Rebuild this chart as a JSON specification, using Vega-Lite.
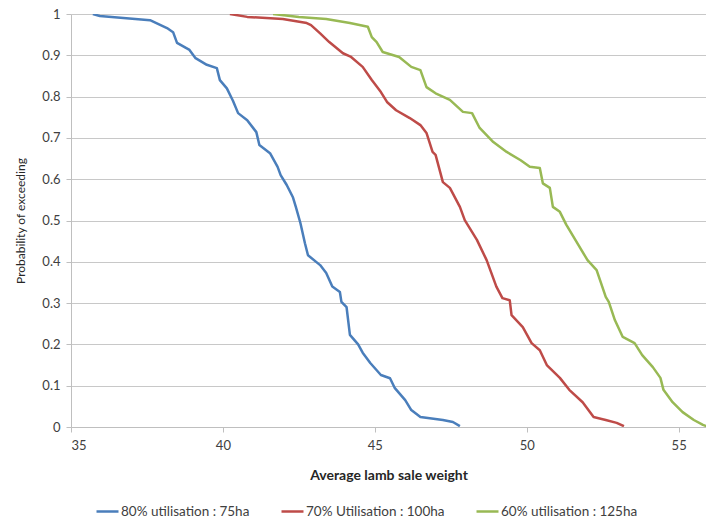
{
  "$schema": "https://vega.github.io/schema/vega-lite/v6.json",
  "width": 635,
  "height": 413,
  "autosize": {"type": "none"},
  "padding": {"left": 71, "top": 14, "right": 0, "bottom": 91},
  "background": "white",
  "config": {
    "font": "Lato",
    "view": {"stroke": null},
    "axis": {"labelColor": "#404040", "titleColor": "#262626", "domainColor": "#bfbfbf", "tickColor": "#bfbfbf", "gridColor": "#c8c8c8"}
  },
  "data": {
    "values": [
      {"s": "80% utilisation : 75ha", "o": 1, "w": 35.72, "p": 1.0},
      {"s": "80% utilisation : 75ha", "o": 2, "w": 35.95, "p": 0.995},
      {"s": "80% utilisation : 75ha", "o": 3, "w": 37.6, "p": 0.985},
      {"s": "80% utilisation : 75ha", "o": 4, "w": 38.16, "p": 0.966},
      {"s": "80% utilisation : 75ha", "o": 5, "w": 38.36, "p": 0.956},
      {"s": "80% utilisation : 75ha", "o": 6, "w": 38.49, "p": 0.93},
      {"s": "80% utilisation : 75ha", "o": 7, "w": 38.9, "p": 0.913},
      {"s": "80% utilisation : 75ha", "o": 8, "w": 39.1, "p": 0.893},
      {"s": "80% utilisation : 75ha", "o": 9, "w": 39.47, "p": 0.877},
      {"s": "80% utilisation : 75ha", "o": 10, "w": 39.8, "p": 0.869},
      {"s": "80% utilisation : 75ha", "o": 11, "w": 39.9, "p": 0.84},
      {"s": "80% utilisation : 75ha", "o": 12, "w": 40.13, "p": 0.82},
      {"s": "80% utilisation : 75ha", "o": 13, "w": 40.33, "p": 0.79},
      {"s": "80% utilisation : 75ha", "o": 14, "w": 40.5, "p": 0.76},
      {"s": "80% utilisation : 75ha", "o": 15, "w": 40.8, "p": 0.743},
      {"s": "80% utilisation : 75ha", "o": 16, "w": 41.1, "p": 0.714},
      {"s": "80% utilisation : 75ha", "o": 17, "w": 41.2, "p": 0.683},
      {"s": "80% utilisation : 75ha", "o": 18, "w": 41.55, "p": 0.663},
      {"s": "80% utilisation : 75ha", "o": 19, "w": 41.8, "p": 0.63},
      {"s": "80% utilisation : 75ha", "o": 20, "w": 41.9, "p": 0.61},
      {"s": "80% utilisation : 75ha", "o": 21, "w": 42.1, "p": 0.586},
      {"s": "80% utilisation : 75ha", "o": 22, "w": 42.3, "p": 0.557},
      {"s": "80% utilisation : 75ha", "o": 23, "w": 42.4, "p": 0.533},
      {"s": "80% utilisation : 75ha", "o": 24, "w": 42.55, "p": 0.494},
      {"s": "80% utilisation : 75ha", "o": 25, "w": 42.7, "p": 0.445},
      {"s": "80% utilisation : 75ha", "o": 26, "w": 42.8, "p": 0.416},
      {"s": "80% utilisation : 75ha", "o": 27, "w": 43.2, "p": 0.392},
      {"s": "80% utilisation : 75ha", "o": 28, "w": 43.4, "p": 0.373},
      {"s": "80% utilisation : 75ha", "o": 29, "w": 43.6, "p": 0.34},
      {"s": "80% utilisation : 75ha", "o": 30, "w": 43.85, "p": 0.327},
      {"s": "80% utilisation : 75ha", "o": 31, "w": 43.9, "p": 0.303},
      {"s": "80% utilisation : 75ha", "o": 32, "w": 44.07, "p": 0.29},
      {"s": "80% utilisation : 75ha", "o": 33, "w": 44.18, "p": 0.223},
      {"s": "80% utilisation : 75ha", "o": 34, "w": 44.45, "p": 0.2},
      {"s": "80% utilisation : 75ha", "o": 35, "w": 44.6, "p": 0.18},
      {"s": "80% utilisation : 75ha", "o": 36, "w": 44.85, "p": 0.155},
      {"s": "80% utilisation : 75ha", "o": 37, "w": 45.2, "p": 0.126},
      {"s": "80% utilisation : 75ha", "o": 38, "w": 45.5, "p": 0.118},
      {"s": "80% utilisation : 75ha", "o": 39, "w": 45.66, "p": 0.094},
      {"s": "80% utilisation : 75ha", "o": 40, "w": 46.0, "p": 0.065},
      {"s": "80% utilisation : 75ha", "o": 41, "w": 46.2, "p": 0.041},
      {"s": "80% utilisation : 75ha", "o": 42, "w": 46.5, "p": 0.024},
      {"s": "80% utilisation : 75ha", "o": 43, "w": 47.24, "p": 0.017},
      {"s": "80% utilisation : 75ha", "o": 44, "w": 47.57, "p": 0.012},
      {"s": "80% utilisation : 75ha", "o": 45, "w": 47.8, "p": 0.002},

      {"s": "70% Utilisation : 100ha", "o": 1, "w": 40.23, "p": 1.0},
      {"s": "70% Utilisation : 100ha", "o": 2, "w": 40.8, "p": 0.993},
      {"s": "70% Utilisation : 100ha", "o": 3, "w": 41.97, "p": 0.988},
      {"s": "70% Utilisation : 100ha", "o": 4, "w": 42.76, "p": 0.978},
      {"s": "70% Utilisation : 100ha", "o": 5, "w": 42.9, "p": 0.973},
      {"s": "70% Utilisation : 100ha", "o": 6, "w": 43.2, "p": 0.953},
      {"s": "70% Utilisation : 100ha", "o": 7, "w": 43.5, "p": 0.932},
      {"s": "70% Utilisation : 100ha", "o": 8, "w": 43.95, "p": 0.905},
      {"s": "70% Utilisation : 100ha", "o": 9, "w": 44.2, "p": 0.897},
      {"s": "70% Utilisation : 100ha", "o": 10, "w": 44.6, "p": 0.872},
      {"s": "70% Utilisation : 100ha", "o": 11, "w": 44.9, "p": 0.84},
      {"s": "70% Utilisation : 100ha", "o": 12, "w": 45.2, "p": 0.811},
      {"s": "70% Utilisation : 100ha", "o": 13, "w": 45.4, "p": 0.787},
      {"s": "70% Utilisation : 100ha", "o": 14, "w": 45.7, "p": 0.767},
      {"s": "70% Utilisation : 100ha", "o": 15, "w": 46.15, "p": 0.748},
      {"s": "70% Utilisation : 100ha", "o": 16, "w": 46.5, "p": 0.731},
      {"s": "70% Utilisation : 100ha", "o": 17, "w": 46.7, "p": 0.712},
      {"s": "70% Utilisation : 100ha", "o": 18, "w": 46.9, "p": 0.666},
      {"s": "70% Utilisation : 100ha", "o": 19, "w": 47.0, "p": 0.659},
      {"s": "70% Utilisation : 100ha", "o": 20, "w": 47.24, "p": 0.593},
      {"s": "70% Utilisation : 100ha", "o": 21, "w": 47.47, "p": 0.579},
      {"s": "70% Utilisation : 100ha", "o": 22, "w": 47.8, "p": 0.533},
      {"s": "70% Utilisation : 100ha", "o": 23, "w": 47.96, "p": 0.501},
      {"s": "70% Utilisation : 100ha", "o": 24, "w": 48.36, "p": 0.453},
      {"s": "70% Utilisation : 100ha", "o": 25, "w": 48.68, "p": 0.404},
      {"s": "70% Utilisation : 100ha", "o": 26, "w": 49.0, "p": 0.34},
      {"s": "70% Utilisation : 100ha", "o": 27, "w": 49.2, "p": 0.312},
      {"s": "70% Utilisation : 100ha", "o": 28, "w": 49.44, "p": 0.307},
      {"s": "70% Utilisation : 100ha", "o": 29, "w": 49.5, "p": 0.271},
      {"s": "70% Utilisation : 100ha", "o": 30, "w": 49.87, "p": 0.242},
      {"s": "70% Utilisation : 100ha", "o": 31, "w": 50.16, "p": 0.203},
      {"s": "70% Utilisation : 100ha", "o": 32, "w": 50.43, "p": 0.186},
      {"s": "70% Utilisation : 100ha", "o": 33, "w": 50.66, "p": 0.15},
      {"s": "70% Utilisation : 100ha", "o": 34, "w": 51.09, "p": 0.119},
      {"s": "70% Utilisation : 100ha", "o": 35, "w": 51.4, "p": 0.09},
      {"s": "70% Utilisation : 100ha", "o": 36, "w": 51.84, "p": 0.06},
      {"s": "70% Utilisation : 100ha", "o": 37, "w": 52.2, "p": 0.024},
      {"s": "70% Utilisation : 100ha", "o": 38, "w": 52.6, "p": 0.017},
      {"s": "70% Utilisation : 100ha", "o": 39, "w": 52.96, "p": 0.01},
      {"s": "70% Utilisation : 100ha", "o": 40, "w": 53.2, "p": 0.002},

      {"s": "60% utilisation : 125ha", "o": 1, "w": 41.65, "p": 1.0},
      {"s": "60% utilisation : 125ha", "o": 2, "w": 42.5, "p": 0.993},
      {"s": "60% utilisation : 125ha", "o": 3, "w": 43.4, "p": 0.988},
      {"s": "60% utilisation : 125ha", "o": 4, "w": 44.18, "p": 0.978},
      {"s": "60% utilisation : 125ha", "o": 5, "w": 44.77, "p": 0.969},
      {"s": "60% utilisation : 125ha", "o": 6, "w": 44.9, "p": 0.944},
      {"s": "60% utilisation : 125ha", "o": 7, "w": 45.06, "p": 0.932},
      {"s": "60% utilisation : 125ha", "o": 8, "w": 45.26, "p": 0.908},
      {"s": "60% utilisation : 125ha", "o": 9, "w": 45.8, "p": 0.896},
      {"s": "60% utilisation : 125ha", "o": 10, "w": 46.2, "p": 0.872},
      {"s": "60% utilisation : 125ha", "o": 11, "w": 46.5, "p": 0.864},
      {"s": "60% utilisation : 125ha", "o": 12, "w": 46.7, "p": 0.823},
      {"s": "60% utilisation : 125ha", "o": 13, "w": 47.0, "p": 0.808},
      {"s": "60% utilisation : 125ha", "o": 14, "w": 47.47, "p": 0.792},
      {"s": "60% utilisation : 125ha", "o": 15, "w": 47.9, "p": 0.763},
      {"s": "60% utilisation : 125ha", "o": 16, "w": 48.2, "p": 0.76},
      {"s": "60% utilisation : 125ha", "o": 17, "w": 48.45, "p": 0.724},
      {"s": "60% utilisation : 125ha", "o": 18, "w": 48.9, "p": 0.69},
      {"s": "60% utilisation : 125ha", "o": 19, "w": 49.34, "p": 0.666},
      {"s": "60% utilisation : 125ha", "o": 20, "w": 49.8, "p": 0.646},
      {"s": "60% utilisation : 125ha", "o": 21, "w": 50.1, "p": 0.63},
      {"s": "60% utilisation : 125ha", "o": 22, "w": 50.43, "p": 0.627},
      {"s": "60% utilisation : 125ha", "o": 23, "w": 50.53, "p": 0.59},
      {"s": "60% utilisation : 125ha", "o": 24, "w": 50.76, "p": 0.579},
      {"s": "60% utilisation : 125ha", "o": 25, "w": 50.86, "p": 0.533},
      {"s": "60% utilisation : 125ha", "o": 26, "w": 51.09, "p": 0.521},
      {"s": "60% utilisation : 125ha", "o": 27, "w": 51.3, "p": 0.49},
      {"s": "60% utilisation : 125ha", "o": 28, "w": 51.6, "p": 0.453},
      {"s": "60% utilisation : 125ha", "o": 29, "w": 52.0, "p": 0.404},
      {"s": "60% utilisation : 125ha", "o": 30, "w": 52.3, "p": 0.38},
      {"s": "60% utilisation : 125ha", "o": 31, "w": 52.6, "p": 0.315},
      {"s": "60% utilisation : 125ha", "o": 32, "w": 52.7, "p": 0.303},
      {"s": "60% utilisation : 125ha", "o": 33, "w": 52.9, "p": 0.259},
      {"s": "60% utilisation : 125ha", "o": 34, "w": 53.16, "p": 0.218},
      {"s": "60% utilisation : 125ha", "o": 35, "w": 53.55, "p": 0.203},
      {"s": "60% utilisation : 125ha", "o": 36, "w": 53.8, "p": 0.174},
      {"s": "60% utilisation : 125ha", "o": 37, "w": 54.15, "p": 0.145},
      {"s": "60% utilisation : 125ha", "o": 38, "w": 54.4, "p": 0.119},
      {"s": "60% utilisation : 125ha", "o": 39, "w": 54.5, "p": 0.09},
      {"s": "60% utilisation : 125ha", "o": 40, "w": 54.8, "p": 0.06},
      {"s": "60% utilisation : 125ha", "o": 41, "w": 55.13, "p": 0.036},
      {"s": "60% utilisation : 125ha", "o": 42, "w": 55.5, "p": 0.017},
      {"s": "60% utilisation : 125ha", "o": 43, "w": 55.8, "p": 0.005},
      {"s": "60% utilisation : 125ha", "o": 44, "w": 56.0, "p": 0.0}
    ]
  },
  "mark": {"type": "line", "strokeWidth": 2.5, "clip": true, "strokeJoin": "round"},
  "encoding": {
    "x": {
      "field": "w", "type": "quantitative",
      "scale": {"domain": [35, 55.9], "nice": false, "zero": false},
      "axis": {
        "title": "Average lamb sale weight",
        "values": [35, 40, 45, 50, 55],
        "grid": false,
        "tickSize": 5,
        "labelPadding": 7,
        "labelFontSize": 13,
        "titleFontSize": 14,
        "titleFontWeight": "bold",
        "titlePadding": 16
      }
    },
    "y": {
      "field": "p", "type": "quantitative",
      "scale": {"domain": [0, 1], "nice": false},
      "axis": {
        "title": "Probability of exceeding",
        "values": [0, 0.1, 0.2, 0.3, 0.4, 0.5, 0.6, 0.7, 0.8, 0.9, 1],
        "format": ".1~f",
        "grid": true,
        "tickSize": 5,
        "labelPadding": 6,
        "labelFontSize": 13,
        "titleFontSize": 12,
        "titleFontWeight": "normal",
        "titlePadding": 14
      }
    },
    "color": {
      "field": "s", "type": "nominal",
      "scale": {
        "domain": ["80% utilisation : 75ha", "70% Utilisation : 100ha", "60% utilisation : 125ha"],
        "range": ["#4a7ebb", "#be4b48", "#98b954"]
      },
      "legend": {
        "title": null,
        "orient": "none",
        "direction": "horizontal",
        "legendX": 24,
        "legendY": 485,
        "symbolType": "stroke",
        "symbolSize": 484,
        "symbolStrokeWidth": 2.5,
        "labelFontSize": 13.5,
        "labelColor": "#404040",
        "columnPadding": 26,
        "symbolOffset": 0,
        "labelOffset": 1
      }
    },
    "order": {"field": "o", "type": "quantitative"}
  }
}
